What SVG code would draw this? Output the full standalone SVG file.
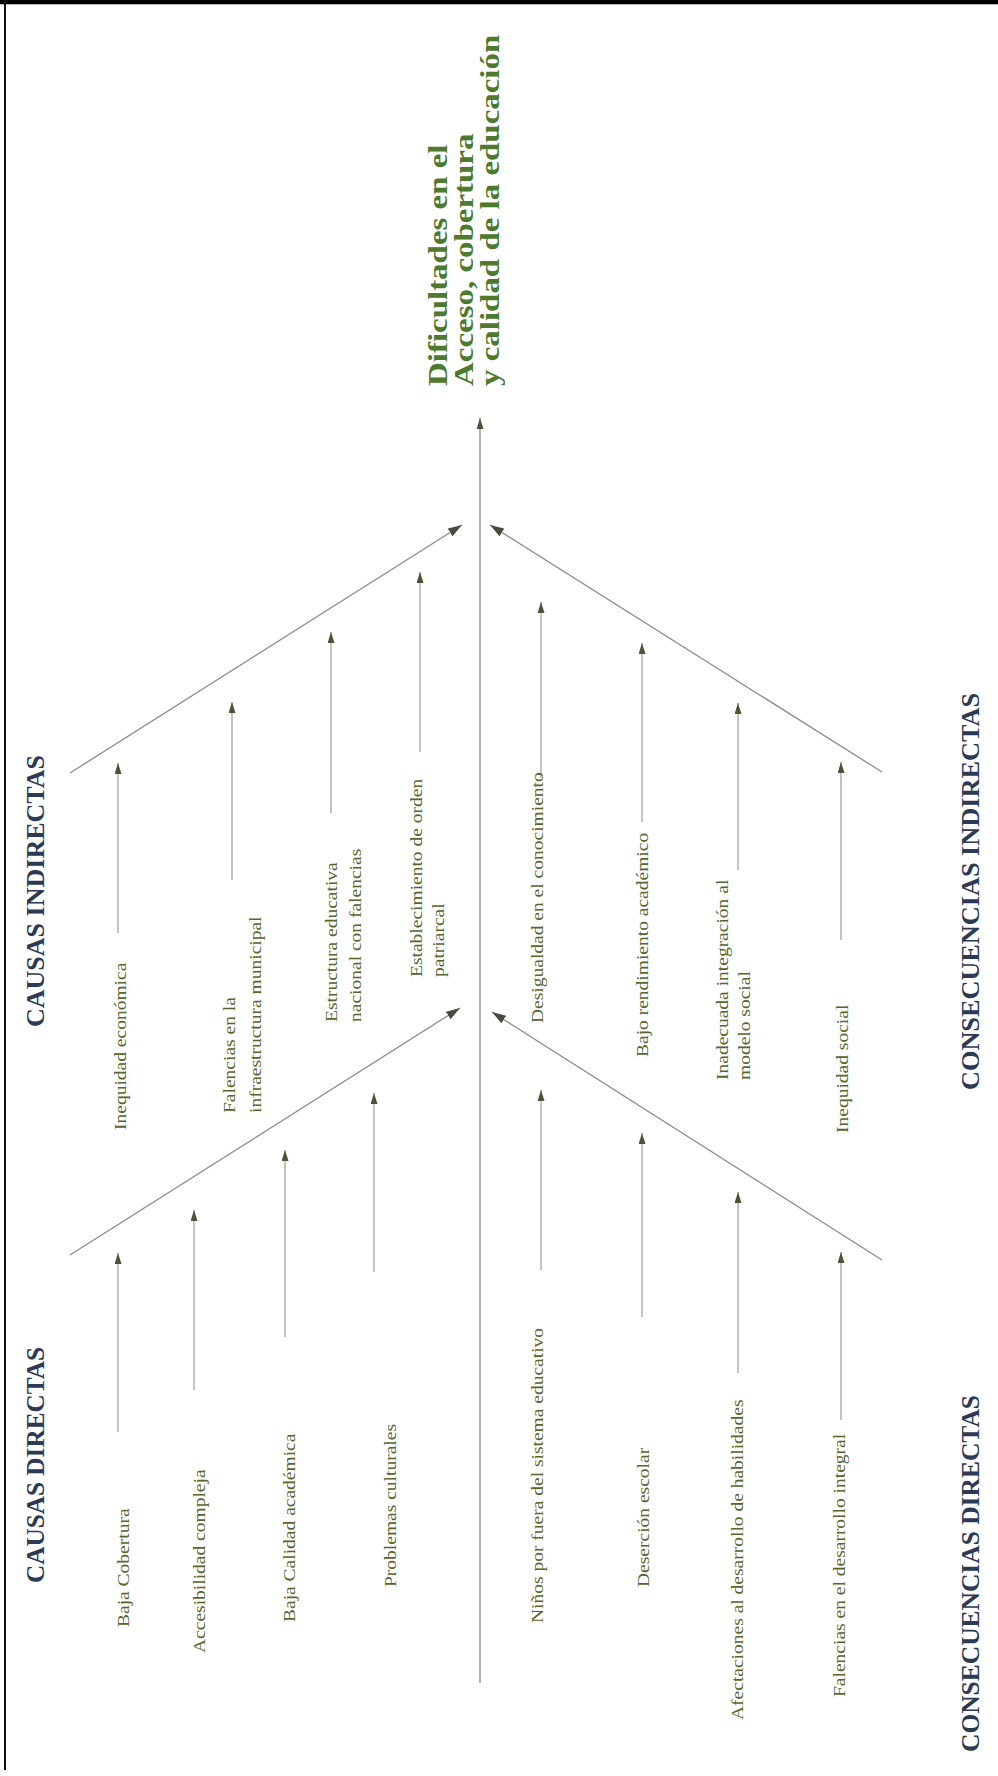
<svg xmlns="http://www.w3.org/2000/svg" width="998" height="1776" viewBox="0 0 998 1776">
<style>
.ln{stroke:#9a9a9a;stroke-width:1.2;fill:none}
.ax{stroke:#a8a8a8;stroke-width:1.8;fill:none}
.ob{stroke:#8c8c8c;stroke-width:1.3;fill:none}
.lbl{font-family:"Liberation Serif","Times New Roman",serif;font-size:16px;fill:#56662e}
.hd{font-family:"Liberation Serif","Times New Roman",serif;font-size:25px;font-weight:bold;fill:#2d3a56}
.tt{font-family:"Liberation Serif","Times New Roman",serif;font-size:27px;font-weight:bold;fill:#4d7a2e}
</style>
<defs>
<marker id="ah" viewBox="0 0 11 7" refX="11" refY="3.5" markerWidth="11" markerHeight="7" markerUnits="userSpaceOnUse" orient="auto"><path d="M0,0 L11,3.5 L0,7 Z" fill="#4f5236"/></marker>
<marker id="ahb" viewBox="0 0 14 9" refX="14" refY="4.5" markerWidth="14" markerHeight="9" markerUnits="userSpaceOnUse" orient="auto"><path d="M0,0 L14,4.5 L0,9 Z" fill="#4a4a40"/></marker>
</defs>
<rect width="998" height="1776" fill="#fff"/>
<g id="frame">
<rect x="0" y="0" width="998" height="4" fill="#000"/>
<line x1="0" y1="4.5" x2="998" y2="4.5" stroke="#bbb" stroke-width="1"/>
<line x1="5" y1="0" x2="5" y2="1770" stroke="#111" stroke-width="2"/>
</g>
<g id="connectors">
<line class="ax" x1="480" y1="1683" x2="480" y2="418" marker-end="url(#ah)"/>
<line class="ob" x1="70" y1="773" x2="462" y2="525" marker-end="url(#ahb)"/>
<line class="ob" x1="882" y1="772" x2="490" y2="525" marker-end="url(#ahb)"/>
<line class="ob" x1="70" y1="1255" x2="460" y2="1008" marker-end="url(#ahb)"/>
<line class="ob" x1="882" y1="1260" x2="492" y2="1012" marker-end="url(#ahb)"/>
<line class="ln" x1="118" y1="933" x2="118" y2="763" marker-end="url(#ah)"/>
<line class="ln" x1="232" y1="880" x2="232" y2="702" marker-end="url(#ah)"/>
<line class="ln" x1="331" y1="813" x2="331" y2="632" marker-end="url(#ah)"/>
<line class="ln" x1="420" y1="752" x2="420" y2="572" marker-end="url(#ah)"/>
<line class="ln" x1="541" y1="778" x2="541" y2="602" marker-end="url(#ah)"/>
<line class="ln" x1="642" y1="822" x2="642" y2="643" marker-end="url(#ah)"/>
<line class="ln" x1="738" y1="870" x2="738" y2="703" marker-end="url(#ah)"/>
<line class="ln" x1="841" y1="940" x2="841" y2="762" marker-end="url(#ah)"/>
<line class="ln" x1="118" y1="1432" x2="118" y2="1253" marker-end="url(#ah)"/>
<line class="ln" x1="194" y1="1390" x2="194" y2="1210" marker-end="url(#ah)"/>
<line class="ln" x1="285" y1="1337" x2="285" y2="1150" marker-end="url(#ah)"/>
<line class="ln" x1="374" y1="1272" x2="374" y2="1093" marker-end="url(#ah)"/>
<line class="ln" x1="541" y1="1270" x2="541" y2="1090" marker-end="url(#ah)"/>
<line class="ln" x1="642" y1="1317" x2="642" y2="1133" marker-end="url(#ah)"/>
<line class="ln" x1="738" y1="1373" x2="738" y2="1192" marker-end="url(#ah)"/>
<line class="ln" x1="841" y1="1420" x2="841" y2="1252" marker-end="url(#ah)"/>
</g>
<g id="title">
<text class="tt" transform="translate(447,386) rotate(-90) scale(1.22,1)">Dificultades en el</text>
<text class="tt" transform="translate(473,386) rotate(-90) scale(1.22,1)">Acceso, cobertura</text>
<text class="tt" transform="translate(499,386) rotate(-90) scale(1.22,1)">y calidad de la educación</text>
</g>
<g id="headers">
<text class="hd" transform="translate(44,1027) rotate(-90)" textLength="272" lengthAdjust="spacingAndGlyphs">CAUSAS INDIRECTAS</text>
<text class="hd" transform="translate(44,1583) rotate(-90)" textLength="236" lengthAdjust="spacingAndGlyphs">CAUSAS DIRECTAS</text>
<text class="hd" transform="translate(979,1090) rotate(-90)" textLength="397" lengthAdjust="spacingAndGlyphs">CONSECUENCIAS INDIRECTAS</text>
<text class="hd" transform="translate(979,1752) rotate(-90)" textLength="357" lengthAdjust="spacingAndGlyphs">CONSECUENCIAS DIRECTAS</text>
</g>
<g id="causas-indirectas">
<g id="ci1"><text class="lbl" transform="translate(126,1130) rotate(-90) scale(1.22,1)">Inequidad económica</text></g>
<g id="ci2"><text class="lbl" transform="translate(235,1113) rotate(-90) scale(1.22,1)">Falencias en la</text>
<text class="lbl" transform="translate(261,1113) rotate(-90) scale(1.22,1)">infraestructura  municipal</text></g>
<g id="ci3"><text class="lbl" transform="translate(337,1022) rotate(-90) scale(1.22,1)">Estructura educativa</text>
<text class="lbl" transform="translate(361,1022) rotate(-90) scale(1.22,1)">nacional con falencias</text></g>
<g id="ci4"><text class="lbl" transform="translate(422,977) rotate(-90) scale(1.22,1)">Establecimiento de orden</text>
<text class="lbl" transform="translate(444,977) rotate(-90) scale(1.22,1)">patriarcal</text></g>
</g>
<g id="consecuencias-indirectas">
<g id="cqi1"><text class="lbl" transform="translate(543,1023) rotate(-90) scale(1.22,1)">Desigualdad en el conocimiento</text></g>
<g id="cqi2"><text class="lbl" transform="translate(648,1057) rotate(-90) scale(1.22,1)">Bajo rendimiento académico</text></g>
<g id="cqi3"><text class="lbl" transform="translate(728,1080) rotate(-90) scale(1.22,1)">Inadecuada integración al</text>
<text class="lbl" transform="translate(750,1080) rotate(-90) scale(1.22,1)">modelo social</text></g>
<g id="cqi4"><text class="lbl" transform="translate(848,1133) rotate(-90) scale(1.22,1)">Inequidad social</text></g>
</g>
<g id="causas-directas">
<g id="cd1"><text class="lbl" transform="translate(129,1627) rotate(-90) scale(1.22,1)">Baja Cobertura</text></g>
<g id="cd2"><text class="lbl" transform="translate(205,1653) rotate(-90) scale(1.22,1)">Accesibilidad compleja</text></g>
<g id="cd3"><text class="lbl" transform="translate(295,1622) rotate(-90) scale(1.22,1)">Baja Calidad académica</text></g>
<g id="cd4"><text class="lbl" transform="translate(396,1587) rotate(-90) scale(1.22,1)">Problemas culturales</text></g>
</g>
<g id="consecuencias-directas">
<g id="cqd1"><text class="lbl" transform="translate(543,1623) rotate(-90) scale(1.22,1)">Niños por fuera del sistema educativo</text></g>
<g id="cqd2"><text class="lbl" transform="translate(649,1587) rotate(-90) scale(1.22,1)">Deserción escolar</text></g>
<g id="cqd3"><text class="lbl" transform="translate(743,1720) rotate(-90) scale(1.22,1)">Afectaciones al desarrollo de habilidades</text></g>
<g id="cqd4"><text class="lbl" transform="translate(845,1697) rotate(-90) scale(1.22,1)">Falencias en el desarrollo integral</text></g>
</g>
</svg>
